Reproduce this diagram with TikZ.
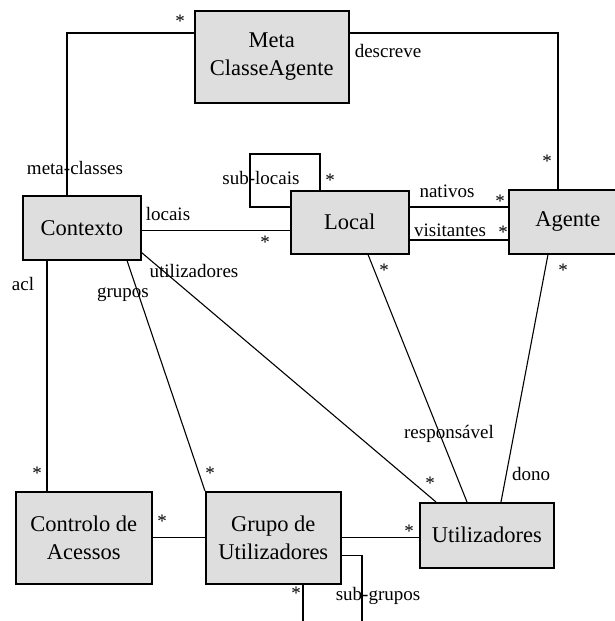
\documentclass[tikz,border=0pt]{standalone}
\usepackage{fontspec}
\setmainfont{Liberation Serif}
\newfontfamily\diagserif{Liberation Serif}
\newcommand\clsfont{\diagserif\fontsize{22.5}{28.5}\selectfont}
\newcommand\lblfont{\diagserif\fontsize{19}{22}\selectfont}
\definecolor{boxgray}{HTML}{DEDEDE}
\begin{document}
\begin{tikzpicture}[x=1pt,y=-1pt,
  cls/.style={draw=black, line width=1.5pt, fill=boxgray, inner sep=0pt,
    anchor=north west, align=center, font=\clsfont},
  link/.style={draw=black, line width=1.1pt},
  lbl/.style={inner sep=0pt, font=\lblfont},
  mult/.style={inner sep=0pt, font=\lblfont, yshift=-2.5pt}]
\clip (0,0) rectangle (615,621);
\fill[white] (0,0) rectangle (615,621);

% classes
\node[cls, minimum width=154pt, minimum height=92pt] (meta) at (194,10) {Meta\\ClasseAgente};
\node[cls, minimum width=118pt, minimum height=64pt] (ctx) at (22,195) {Contexto};
\node[cls, minimum width=118pt, minimum height=63pt] (loc) at (290,190) {Local};
\node[cls, minimum width=118pt, minimum height=64pt] (ag) at (508,189) {Agente};
\node[cls, minimum width=136pt, minimum height=92pt] (ctl) at (15,491) {Controlo de\\Acessos};
\node[cls, minimum width=135pt, minimum height=92pt] (grp) at (205,491) {Grupo de\\Utilizadores};
\node[cls, minimum width=134pt, minimum height=65pt] (usr) at (419,502) {Utilizadores};

% free ends and bends
\coordinate (lp) at (250,154);
\coordinate (sgA) at (303,630);
\coordinate (sgB) at (362,630);

% associations
\draw[link] ([yshift=-23pt]meta.north west) -| ([xshift=45pt]ctx.north west);
\draw[link] ([yshift=-23pt]meta.north east) -| ([xshift=50pt]ag.north west);
\draw[link] ([yshift=-3pt]ctx.east) -- ([yshift=-3pt]ctx.east -| loc.west);
\draw[link] ([yshift=-17pt]loc.north west) -| (lp) -| ([xshift=30pt]loc.north west);
\draw[link] ([yshift=-17pt]loc.north east) -- ([yshift=-17pt]loc.north east -| ag.west);
\draw[link] ([yshift=-50pt]loc.north east) -- ([yshift=-50pt]loc.north east -| ag.west);
\draw[link] ([xshift=78pt]loc.south west) -- ([xshift=48pt]usr.north west);
\draw[link] ([xshift=40pt]ag.south west) -- ([xshift=82pt]usr.north west);
\draw[link] ([yshift=8pt]ctx.south east) -- ([xshift=17pt]usr.north west);
\draw[link] ([xshift=105pt]ctx.south west) -- (grp.north west);
\draw[link] ([xshift=25pt]ctx.south west) -- ([xshift=25pt]ctx.south west |- ctl.north);
\draw[link] (ctl.east) -- (grp.west);
\draw[link] (grp.east) -- (grp.east -| usr.west);
\draw[link] ([yshift=-18pt]grp.east) -| (sgB);
\draw[link] ([xshift=98pt]grp.south west) -- (sgA);

% role names
\node[lbl] (tDescreve) at (388,51) {descreve};
\node[lbl] (tMeta) at (75,168) {meta-classes};
\node[lbl] (tSubLoc) at (261,178) {sub-locais};
\node[lbl] (tNat) at (447,191) {nativos};
\node[lbl] (tVis) at (450,230) {visitantes};
\node[lbl] (tLoc) at (168,214) {locais};
\node[lbl] (tUtil) at (194,271) {utilizadores};
\node[lbl] (tGrp) at (123,295) {grupos};
\node[lbl] (tAcl) at (23,284) {acl};
\node[lbl] (tResp) at (449,434) {responsável};
\node[lbl] (tDono) at (531,474) {dono};
\node[lbl] (tSubGrp) at (378,596) {sub-grupos};

% multiplicities
\node[mult] (m1) at (180,19) {*};
\node[mult] (m2) at (547,159) {*};
\node[mult] (m3) at (330,178) {*};
\node[mult] (m4) at (500,199) {*};
\node[mult] (m5) at (503,230) {*};
\node[mult] (m6) at (265,240) {*};
\node[mult] (m7) at (384,268) {*};
\node[mult] (m8) at (563,268) {*};
\node[mult] (m9) at (37,471) {*};
\node[mult] (m10) at (210,471) {*};
\node[mult] (m11) at (430,481) {*};
\node[mult] (m12) at (162,519) {*};
\node[mult] (m13) at (409,529) {*};
\node[mult] (m14) at (296,591) {*};
\end{tikzpicture}
\end{document}
